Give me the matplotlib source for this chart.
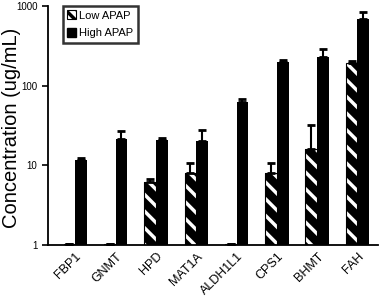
import numpy as np
import matplotlib
matplotlib.use('Agg')
import matplotlib.pyplot as plt
from matplotlib.patches import Patch

plt.rcParams['font.family'] = 'Liberation Sans'
plt.rcParams['hatch.linewidth'] = 2.5

genes = ['FBP1', 'GNMT', 'HPD', 'MAT1A', 'ALDH1L1', 'CPS1', 'BHMT', 'FAH']
low_apap = [1.02, 1.02, 6.2, 8.0, 1.02, 8.0, 15.9, 192]
low_err = [0.0, 0.0, 0.5, 2.7, 0.0, 2.6, 16.0, 11]
high_apap = [11.7, 21.4, 21.0, 20.2, 62, 198, 229, 685]
high_err = [0.6, 5.6, 1.0, 7.5, 6, 11, 59, 150]

fig = plt.figure(figsize=(3.83, 2.99), dpi=100)
ax = fig.add_axes([0.125, 0.181, 0.862, 0.799])

x = np.arange(len(genes))
w = 0.29

# 低剂量：黑底白斜纹
ax.bar(x - w / 2, np.array(low_apap) - 1, w, bottom=1, color='black',
       edgecolor='white', hatch='\\\\', linewidth=0)
ax.bar(x - w / 2, np.array(low_apap) - 1, w, bottom=1, fill=False,
       edgecolor='black', linewidth=0.8)
ax.errorbar(x - w / 2, low_apap, yerr=[np.zeros(len(genes)), low_err],
            fmt='none', ecolor='black', elinewidth=1.5, capsize=3, capthick=2)

# 高剂量：纯黑
ax.bar(x + w / 2, np.array(high_apap) - 1, w, bottom=1, color='black')
ax.errorbar(x + w / 2, high_apap, yerr=[np.zeros(len(genes)), high_err],
            fmt='none', ecolor='black', elinewidth=1.5, capsize=3, capthick=2)

ax.set_yscale('log')
ax.set_ylim(1, 1000)
ax.set_xlim(-0.68, 7.51)
ax.set_yticks([1, 10, 100, 1000])
ax.set_yticklabels(['1', '10', '100', '1000'])
ax.yaxis.set_minor_locator(matplotlib.ticker.NullLocator())
ax.tick_params(axis='y', labelsize=7, length=4, width=1.2, direction='out')
ax.tick_params(axis='x', length=0, labelsize=9, pad=4)
ax.set_xticks(x)
ax.set_xticklabels(genes, rotation=45, ha='right', rotation_mode='anchor')

for s in ['top', 'right']:
    ax.spines[s].set_visible(False)
for s in ['left', 'bottom']:
    ax.spines[s].set_linewidth(1.3)

ax.set_ylabel('Concentration (ug/mL)', fontsize=14.5)
ax.yaxis.set_label_coords(-0.08, 0.49)

handles = [Patch(facecolor='white', edgecolor='black', hatch='\\\\\\', linewidth=0.8),
           Patch(facecolor='black', edgecolor='black')]
plt.rcParams['hatch.color'] = 'black'
leg = ax.legend(handles, ['Low APAP', 'High APAP'], loc='upper left',
                bbox_to_anchor=(0.045, 1.0), fontsize=8, handlelength=0.8,
                handleheight=0.8, handletextpad=0.3, fancybox=False,
                borderpad=0.4, labelspacing=0.7, borderaxespad=0)
leg.get_frame().set_edgecolor('black')
leg.get_frame().set_linewidth(1.8)

fig.savefig('out.png', dpi=100)
